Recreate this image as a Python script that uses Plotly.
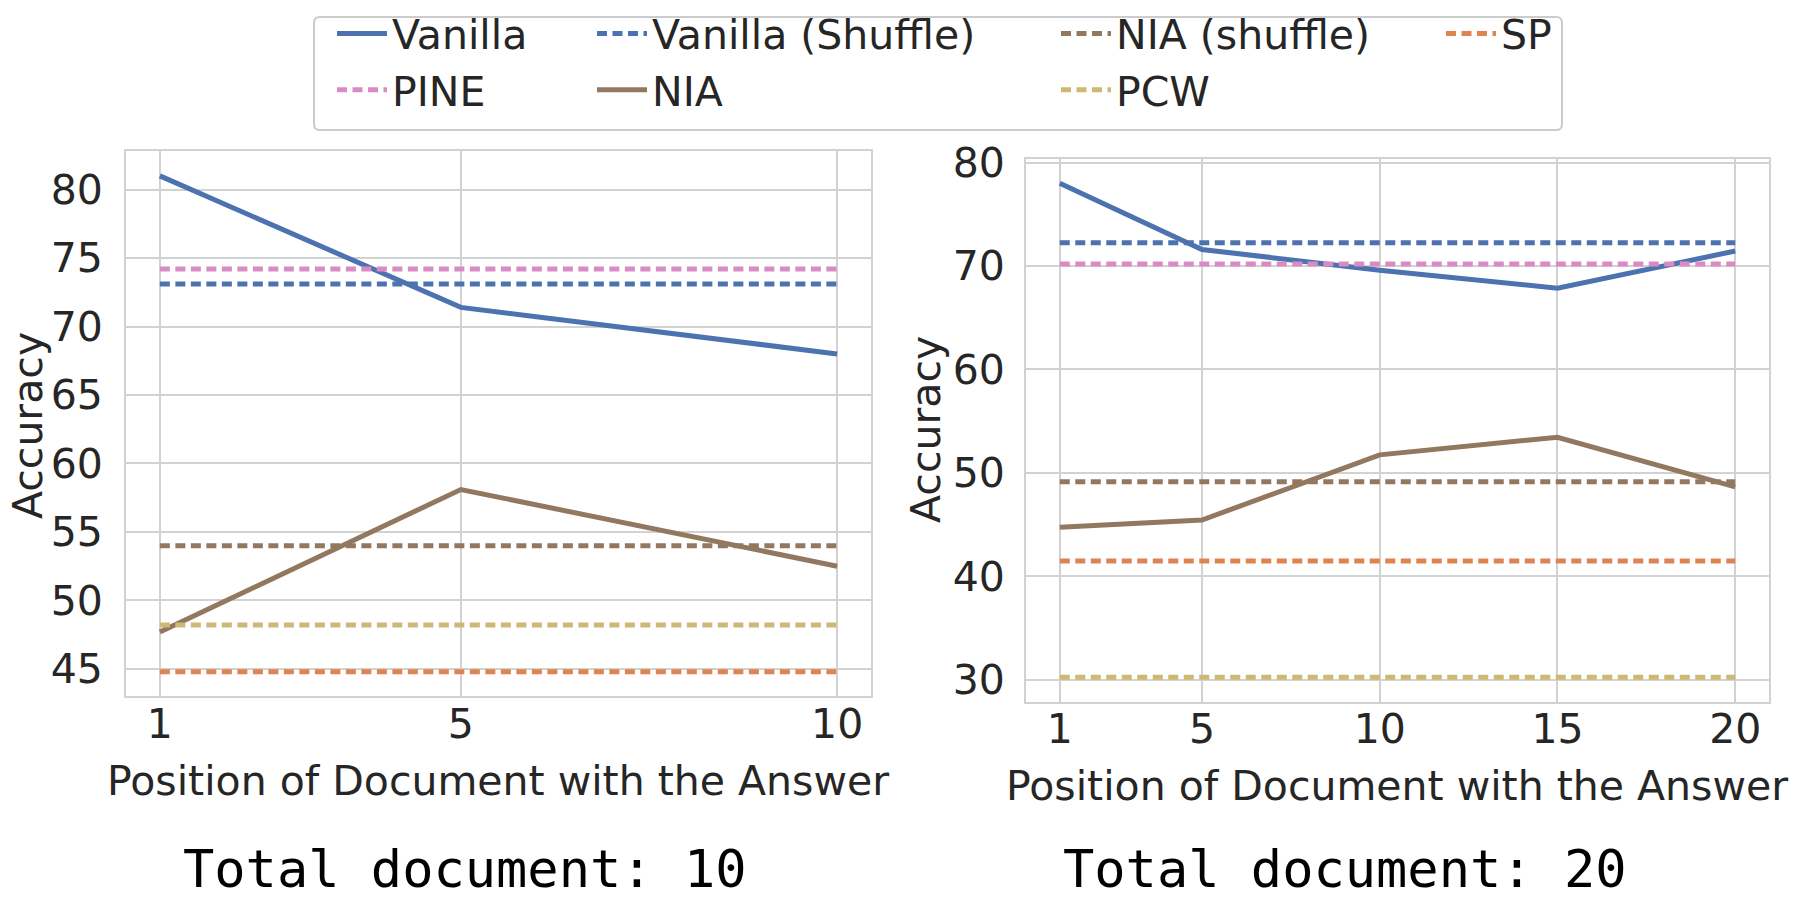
import plotly.graph_objects as go

# ---------------- data ----------------
positions_10 = [1, 5, 10]
positions_20 = [1, 5, 10, 15, 20]

vanilla_10 = [81.0, 71.4, 68.0]
nia_10 = [47.7, 58.1, 52.5]
vanilla_shuffle_10 = 73.1
pine_10 = 74.2
nia_shuffle_10 = 54.0
pcw_10 = 48.2
sp_10 = 44.8

vanilla_20 = [78.0, 71.6, 69.6, 67.85, 71.45]
nia_20 = [44.75, 45.45, 51.75, 53.45, 48.65]
vanilla_shuffle_20 = 72.25
pine_20 = 70.2
nia_shuffle_20 = 49.15
sp_20 = 41.5
pcw_20 = 30.25

series_names = ["Vanilla", "PINE", "Vanilla (Shuffle)", "NIA", "NIA (shuffle)", "PCW", "SP"]

x_ticks_10 = [1, 5, 10]
x_ticks_20 = [1, 5, 10, 15, 20]
y_ticks_10 = [45, 50, 55, 60, 65, 70, 75, 80]
y_ticks_20 = [30, 40, 50, 60, 70, 80]

x_title = "Position of Document with the Answer"
y_title = "Accuracy"
panel_titles = ["Total document: 10", "Total document: 20"]

# ---------------- styles ----------------
BLUE = "#4C72B0"
BROWN = "#937860"
PINK = "#DA8BC3"
OLIVE = "#CCB974"
ORANGE = "#DD8452"
DASH = "10px,5.5px"
style = {
    "Vanilla": (BLUE, "solid", "legend"),
    "PINE": (PINK, DASH, "legend"),
    "Vanilla (Shuffle)": (BLUE, DASH, "legend2"),
    "NIA": (BROWN, "solid", "legend2"),
    "NIA (shuffle)": (BROWN, DASH, "legend3"),
    "PCW": (OLIVE, DASH, "legend3"),
    "SP": (ORANGE, DASH, "legend4"),
}

W, H = 1798, 900
TEXT = "#262626"
GRID = "#d2d2d2"
FS = 41


def px(x):
    return x / W


def py(y):
    return 1 - y / H


def panel_values(pos, vanilla, pine, vshuf, nia, nshuf, pcw, sp):
    n = len(pos)
    return {
        "Vanilla": vanilla,
        "PINE": [pine] * n,
        "Vanilla (Shuffle)": [vshuf] * n,
        "NIA": nia,
        "NIA (shuffle)": [nshuf] * n,
        "PCW": [pcw] * n,
        "SP": [sp] * n,
    }


panels = [
    (positions_10, panel_values(positions_10, vanilla_10, pine_10, vanilla_shuffle_10,
                                nia_10, nia_shuffle_10, pcw_10, sp_10), "x", "y"),
    (positions_20, panel_values(positions_20, vanilla_20, pine_20, vanilla_shuffle_20,
                                nia_20, nia_shuffle_20, pcw_20, sp_20), "x2", "y2"),
]

fig = go.Figure()
ranges = []
for pi, (pos, vals, xa, ya) in enumerate(panels):
    allv = [v for name in series_names for v in vals[name]]
    lo, hi = min(allv), max(allv)
    pad = 0.05 * (hi - lo)
    xpad = 0.05 * (max(pos) - min(pos))
    ranges.append(([min(pos) - xpad, max(pos) + xpad], [lo - pad, hi + pad]))
    for name in series_names:
        color, dash, leg = style[name]
        fig.add_trace(go.Scatter(
            x=pos, y=vals[name], mode="lines", name=name,
            line=dict(color=color, width=5, dash=dash),
            xaxis=xa, yaxis=ya, legend=leg,
            showlegend=(pi == 0),
        ))

axis_common = dict(
    showgrid=True, gridcolor=GRID, gridwidth=2,
    showline=True, mirror=True, linecolor=GRID, linewidth=2,
    zeroline=False, ticks="outside", tickcolor="rgba(0,0,0,0)",
    tickfont=dict(family="DejaVu Sans", size=FS, color=TEXT),
    automargin=False,
)

fig.update_layout(
    width=W, height=H,
    margin=dict(l=0, r=0, t=0, b=0),
    paper_bgcolor="white", plot_bgcolor="white",
    font=dict(family="DejaVu Sans", size=FS, color=TEXT),
    xaxis=dict(domain=[px(126), px(871)], range=ranges[0][0], tickvals=x_ticks_10,
               anchor="y", ticklen=2, ticklabelstandoff=-12, **axis_common),
    yaxis=dict(domain=[py(693), py(138.4)], range=ranges[0][1], tickvals=y_ticks_10,
               anchor="x", ticklen=13, **axis_common),
    xaxis2=dict(domain=[px(1026), px(1769)], range=ranges[1][0], tickvals=x_ticks_20,
                anchor="y2", ticklen=2, ticklabelstandoff=-12, **axis_common),
    yaxis2=dict(domain=[py(698.6), py(146)], range=ranges[1][1], tickvals=y_ticks_20,
                anchor="x2", ticklen=11, **axis_common),
)

TXT_OFF = 61
legend_common = dict(
    orientation="v", xanchor="left", yanchor="top", y=py(-15),
    bgcolor="rgba(0,0,0,0)", borderwidth=0, itemwidth=50,
    font=dict(family="DejaVu Sans", size=FS, color=TEXT),
)
fig.update_layout(
    legend=dict(x=px(393 - TXT_OFF), **legend_common),
    legend2=dict(x=px(653 - TXT_OFF), **legend_common),
    legend3=dict(x=px(1117 - TXT_OFF), **legend_common),
    legend4=dict(x=px(1502 - TXT_OFF), **legend_common),
)

# legend frame (rounded rectangle)
x0, x1, y0, y1 = px(314), px(1562), py(117), py(2)
rx, ry = 6 / W, 6 / H
path = (f"M{x0 + rx},{y1} L{x1 - rx},{y1} Q{x1},{y1} {x1},{y1 - ry} "
        f"L{x1},{y0 + ry} Q{x1},{y0} {x1 - rx},{y0} L{x0 + rx},{y0} "
        f"Q{x0},{y0} {x0},{y0 + ry} L{x0},{y1 - ry} Q{x0},{y1} {x0 + rx},{y1} Z")
fig.add_shape(type="path", path=path, xref="paper", yref="paper",
              line=dict(color="#cccccc", width=2), fillcolor="rgba(0,0,0,0)", layer="above")

# axis titles
for (xp, yp) in [(28, 418), (926, 422)]:
    fig.add_annotation(x=px(xp), y=py(yp), xref="paper", yref="paper",
                       text=y_title, textangle=-90, showarrow=False,
                       xanchor="center", yanchor="middle",
                       font=dict(family="DejaVu Sans", size=FS, color=TEXT))
for (xp, yp) in [(498, 779), (1397, 784)]:
    fig.add_annotation(x=px(xp), y=py(yp), xref="paper", yref="paper",
                       text=x_title, showarrow=False,
                       xanchor="center", yanchor="middle",
                       font=dict(family="DejaVu Sans", size=FS, color=TEXT))
# panel captions
for t, xp in zip(panel_titles, [465, 1345]):
    fig.add_annotation(x=px(xp), y=py(868), xref="paper", yref="paper",
                       text=t, showarrow=False, xanchor="center", yanchor="middle",
                       font=dict(family="DejaVu Sans Mono", size=52, color="black"))

fig.write_html("out.html", config={"displayModeBar": False},
               post_script="document.body.style.margin='0px';")
